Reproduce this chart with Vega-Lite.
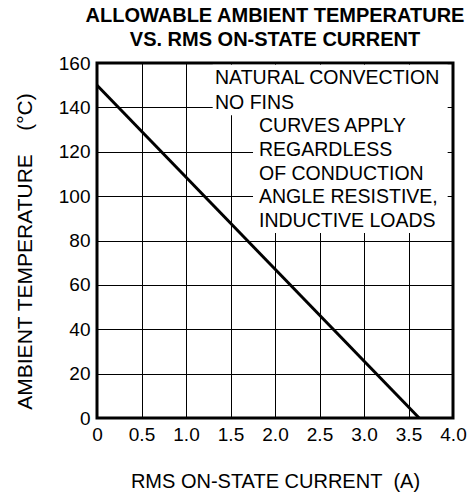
{
  "$schema": "https://vega.github.io/schema/vega-lite/v6.json",
  "width": 356,
  "height": 355,
  "autosize": {"type": "none"},
  "padding": {"left": 97, "top": 63, "right": 18, "bottom": 80},
  "background": "white",
  "title": {
    "text": ["ALLOWABLE AMBIENT TEMPERATURE", "VS. RMS ON-STATE CURRENT"],
    "font": "Liberation Sans",
    "fontSize": 20,
    "fontWeight": "bold",
    "lineHeight": 24,
    "anchor": "middle",
    "offset": -12,
    "baseline": "alphabetic",
    "color": "black"
  },
  "config": {
    "view": {"stroke": "black", "strokeWidth": 3},
    "axis": {
      "labelFont": "Liberation Sans",
      "titleFont": "Liberation Sans",
      "labelFontSize": 19,
      "titleFontSize": 20,
      "titleFontWeight": "normal",
      "labelColor": "black",
      "titleColor": "black",
      "gridColor": "black",
      "gridOpacity": 1,
      "gridWidth": 1,
      "ticks": false,
      "tickSize": 0,
      "domain": false,
      "labelFlush": false,
      "labelOverlap": false
    }
  },
  "data": {
    "values": [
      {"current": 0, "temperature": 150},
      {"current": 3.62, "temperature": 0}
    ]
  },
  "layer": [
    {
      "mark": {"type": "line", "color": "black", "strokeWidth": 3},
      "encoding": {
        "x": {
          "field": "current",
          "type": "quantitative",
          "scale": {"domain": [0, 4], "nice": false},
          "axis": {
            "title": "RMS ON-STATE CURRENT\u00a0\u00a0(A)",
            "values": [0, 0.5, 1, 1.5, 2, 2.5, 3, 3.5, 4],
            "labelExpr": "datum.value == 0 ? '0' : format(datum.value, '.1f')",
            "labelPadding": 7,
            "titlePadding": 27
          }
        },
        "y": {
          "field": "temperature",
          "type": "quantitative",
          "scale": {"domain": [0, 160], "nice": false},
          "axis": {
            "title": "AMBIENT TEMPERATURE\u00a0\u00a0\u00a0\u00a0(°C)",
            "titleFontSize": 21,
            "values": [0, 20, 40, 60, 80, 100, 120, 140, 160],
            "labelPadding": 7,
            "titlePadding": 23,
            "titleY": 188
          }
        }
      }
    },
    {
      "data": {"values": [{}]},
      "mark": {"type": "rect", "color": "white", "opacity": 1},
      "encoding": {
        "x": {"datum": 1.3, "type": "quantitative"},
        "x2": {"datum": 3.94},
        "y": {"datum": 159.2, "type": "quantitative"},
        "y2": {"datum": 136.5}
      }
    },
    {
      "data": {"values": [{}]},
      "mark": {"type": "rect", "color": "white", "opacity": 1},
      "encoding": {
        "x": {"datum": 1.753, "type": "quantitative"},
        "x2": {"datum": 3.94},
        "y": {"datum": 136.6, "type": "quantitative"},
        "y2": {"datum": 83.4}
      }
    },
    {
      "data": {"values": [{}]},
      "mark": {
        "type": "text",
        "text": ["NATURAL CONVECTION", "NO FINS"],
        "font": "Liberation Sans",
        "fontSize": 19.5,
        "lineHeight": 25,
        "align": "left",
        "baseline": "top",
        "color": "black"
      },
      "encoding": {
        "x": {"datum": 1.326, "type": "quantitative"},
        "y": {"datum": 157.5, "type": "quantitative"}
      }
    },
    {
      "data": {"values": [{}]},
      "mark": {
        "type": "text",
        "text": ["CURVES APPLY", "REGARDLESS", "OF CONDUCTION", "ANGLE RESISTIVE,", "INDUCTIVE LOADS"],
        "font": "Liberation Sans",
        "fontSize": 19.5,
        "lineHeight": 23.75,
        "align": "left",
        "baseline": "top",
        "color": "black"
      },
      "encoding": {
        "x": {"datum": 1.82, "type": "quantitative"},
        "y": {"datum": 135.6, "type": "quantitative"}
      }
    }
  ]
}
